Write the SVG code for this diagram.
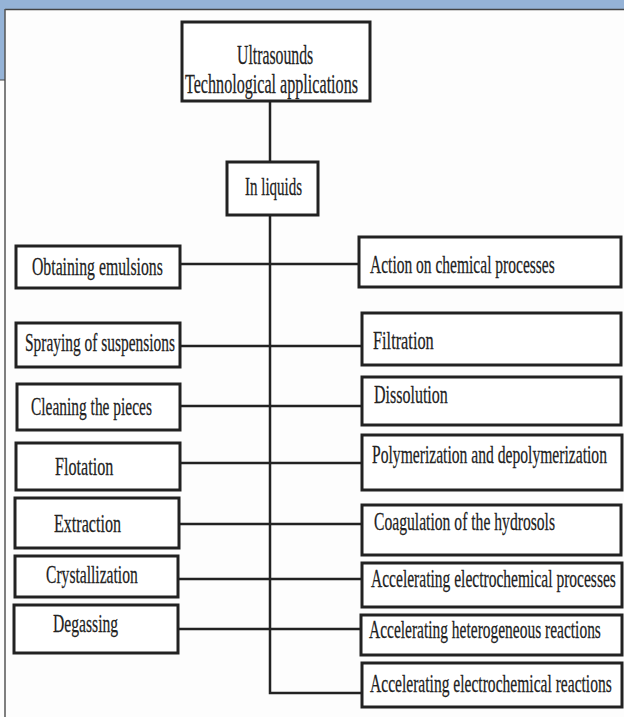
<svg xmlns="http://www.w3.org/2000/svg" width="624" height="717" viewBox="0 0 624 717">
<style>
.box{fill:#fff;stroke:#222;stroke-width:3}
.t{font-family:"Liberation Serif","Times New Roman",serif;font-size:26px;fill:#222;stroke:#222;stroke-width:0.25}
.tt{font-family:"Liberation Serif","Times New Roman",serif;font-size:28px;fill:#222;stroke:#222;stroke-width:0.25}
.c{stroke:#222;stroke-width:2.5;fill:none}
</style>
<rect x="0" y="0" width="624" height="717" fill="#fdfdfd"/>
<rect x="0" y="0" width="624" height="9" fill="#95b3d7"/>
<rect x="0" y="9" width="5" height="71" fill="#95b3d7"/>
<line x1="5" y1="9.5" x2="624" y2="9.5" stroke="#444" stroke-width="1.5"/>
<line x1="5" y1="9" x2="5" y2="717" stroke="#555" stroke-width="1.5"/>
<line x1="0" y1="80" x2="5" y2="80" stroke="#444" stroke-width="1"/>
<g id="connectors">
<line class="c" x1="270" y1="101" x2="270" y2="162"/>
<polyline class="c" points="270,215 270,693 362,693"/>
<line class="c" x1="180" y1="264" x2="359" y2="264"/>
<line class="c" x1="180" y1="346" x2="362" y2="346"/>
<line class="c" x1="180" y1="406" x2="362" y2="406"/>
<line class="c" x1="180" y1="463" x2="362" y2="463"/>
<line class="c" x1="179" y1="524" x2="362" y2="524"/>
<line class="c" x1="178" y1="579" x2="362" y2="579"/>
<line class="c" x1="178" y1="629" x2="361" y2="629"/>
</g>
<g id="root"><rect class="box" x="182" y="22" width="188" height="79" stroke-width="3.5"/>
<text class="tt" transform="translate(237,64) scale(0.62,1)" textLength="123" lengthAdjust="spacingAndGlyphs">Ultrasounds</text>
<text class="tt" transform="translate(185,93) scale(0.62,1)" textLength="279" lengthAdjust="spacingAndGlyphs">Technological applications</text></g>
<g id="liquids"><rect class="box" x="227" y="162" width="91" height="53"/>
<text class="t" transform="translate(245,195) scale(0.62,1)" textLength="92" lengthAdjust="spacingAndGlyphs">In liquids</text></g>
<g id="l1"><rect class="box" x="16" y="246" width="164" height="42"/>
<text class="t" transform="translate(32,275) scale(0.62,1)" textLength="211" lengthAdjust="spacingAndGlyphs">Obtaining emulsions</text></g>
<g id="l2"><rect class="box" x="16" y="323" width="164" height="44"/>
<text class="t" transform="translate(25,351) scale(0.62,1)" textLength="242" lengthAdjust="spacingAndGlyphs">Spraying of suspensions</text></g>
<g id="l3"><rect class="box" x="17" y="384" width="163" height="46"/>
<text class="t" transform="translate(31,415) scale(0.62,1)" textLength="195" lengthAdjust="spacingAndGlyphs">Cleaning the pieces</text></g>
<g id="l4"><rect class="box" x="16" y="443" width="164" height="47"/>
<text class="t" transform="translate(55,475) scale(0.62,1)" textLength="94" lengthAdjust="spacingAndGlyphs">Flotation</text></g>
<g id="l5"><rect class="box" x="15" y="498" width="164" height="50"/>
<text class="t" transform="translate(54,532) scale(0.62,1)" textLength="108" lengthAdjust="spacingAndGlyphs">Extraction</text></g>
<g id="l6"><rect class="box" x="15" y="556" width="163" height="41"/>
<text class="t" transform="translate(46,583) scale(0.62,1)" textLength="148" lengthAdjust="spacingAndGlyphs">Crystallization</text></g>
<g id="l7"><rect class="box" x="14" y="605" width="164" height="48"/>
<text class="t" transform="translate(53,632) scale(0.62,1)" textLength="105" lengthAdjust="spacingAndGlyphs">Degassing</text></g>
<g id="r1"><rect class="box" x="359" y="237" width="262" height="50"/>
<text class="t" transform="translate(370,273) scale(0.62,1)" textLength="298" lengthAdjust="spacingAndGlyphs">Action on chemical processes</text></g>
<g id="r2"><rect class="box" x="362" y="313" width="259" height="52"/>
<text class="t" transform="translate(373,349) scale(0.62,1)" textLength="98" lengthAdjust="spacingAndGlyphs">Filtration</text></g>
<g id="r3"><rect class="box" x="362" y="377" width="259" height="48"/>
<text class="t" transform="translate(374,403) scale(0.62,1)" textLength="119" lengthAdjust="spacingAndGlyphs">Dissolution</text></g>
<g id="r4"><rect class="box" x="362" y="435" width="260" height="55"/>
<text class="t" transform="translate(372,463) scale(0.62,1)" textLength="379" lengthAdjust="spacingAndGlyphs">Polymerization and depolymerization</text></g>
<g id="r5"><rect class="box" x="362" y="505" width="259" height="50"/>
<text class="t" transform="translate(374,530) scale(0.62,1)" textLength="292" lengthAdjust="spacingAndGlyphs">Coagulation of the hydrosols</text></g>
<g id="r6"><rect class="box" x="362" y="563" width="260" height="44"/>
<text class="t" transform="translate(371,587) scale(0.62,1)" textLength="395" lengthAdjust="spacingAndGlyphs">Accelerating electrochemical processes</text></g>
<g id="r7"><rect class="box" x="361" y="615" width="261" height="40"/>
<text class="t" transform="translate(369,638) scale(0.62,1)" textLength="374" lengthAdjust="spacingAndGlyphs">Accelerating heterogeneous reactions</text></g>
<g id="r8"><rect class="box" x="362" y="663" width="260" height="44"/>
<text class="t" transform="translate(370,692) scale(0.62,1)" textLength="390" lengthAdjust="spacingAndGlyphs">Accelerating electrochemical reactions</text></g>
</svg>
